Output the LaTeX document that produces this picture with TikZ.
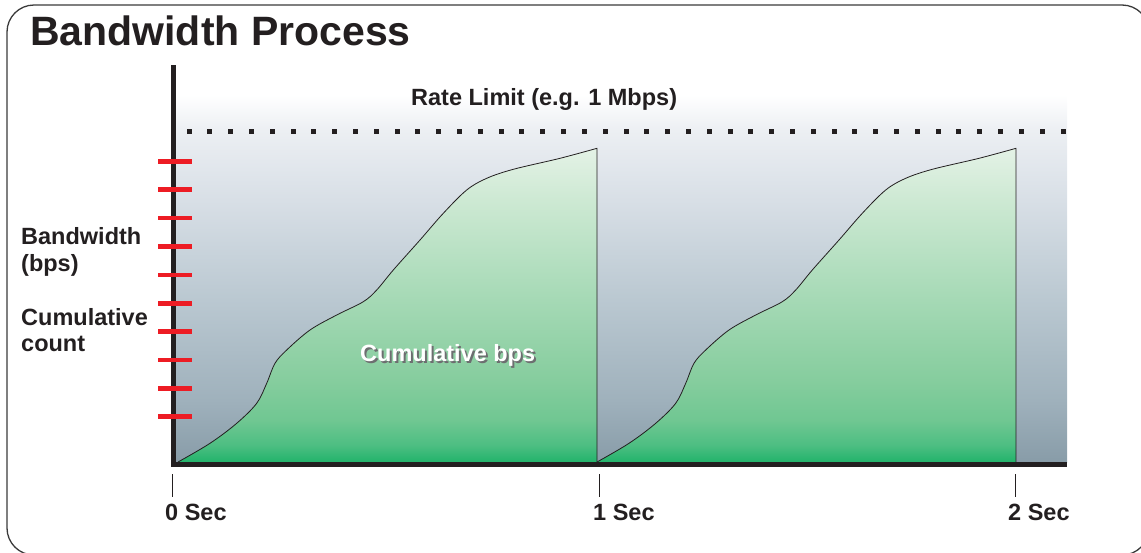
\documentclass[tikz,border=0pt]{standalone}
\usepackage{fontspec}
\setmainfont{Liberation Sans}
\definecolor{ink}{HTML}{231F20}
\definecolor{framec}{HTML}{3A3A3A}
\definecolor{tickred}{HTML}{ED1C24}
\definecolor{shadowc}{HTML}{6D6E70}
\definecolor{bg0}{HTML}{889CA8}
\definecolor{bg1}{HTML}{9FB1BC}
\definecolor{bg2}{HTML}{BAC8D1}
\definecolor{bg3}{HTML}{D8DFE6}
\definecolor{bg4}{HTML}{ECEFF3}
\definecolor{bg5}{HTML}{FFFFFF}
\definecolor{gr0}{HTML}{22B36B}
\definecolor{gr1}{HTML}{4DBE82}
\definecolor{gr2}{HTML}{70C792}
\definecolor{gr3}{HTML}{86CD9E}
\definecolor{gr4}{HTML}{A5D9B5}
\definecolor{gr5}{HTML}{CDE9D3}
\definecolor{gr6}{HTML}{E4F2E6}
\pgfdeclareverticalshading{bgfade}{100bp}{color(0bp)=(bg0); color(25bp)=(bg0); color(33.4bp)=(bg1); color(47.1bp)=(bg2); color(60.7bp)=(bg3); color(70.2bp)=(bg4); color(75bp)=(bg5); color(100bp)=(bg5)}
\pgfdeclareverticalshading{greenfade}{100bp}{color(0bp)=(gr0); color(25bp)=(gr0); color(27.7bp)=(gr1); color(31.7bp)=(gr2); color(38.1bp)=(gr3); color(50.8bp)=(gr4); color(66.7bp)=(gr5); color(75bp)=(gr6); color(100bp)=(gr6)}
\tikzset{
  txt/.style={inner sep=0pt, text=ink, font=\bfseries\fontsize{23.5}{27}\selectfont},
  titletxt/.style={inner sep=0pt, text=ink, font=\bfseries\fontsize{41}{45}\selectfont},
  axisline/.style={draw=ink, line width=5pt},
  redtick/.style={draw=tickred, line width=4.6pt},
  secmark/.style={draw=ink, line width=1pt},
  curveline/.style={draw=ink, line width=0.8pt},
  areafill/.style={shading=greenfade}
}
\begin{document}
\begin{tikzpicture}[x=1pt,y=-1pt]
\useasboundingbox (0,0) rectangle (1141,552);
% outer frame
\draw[framec, line width=1.3pt, rounded corners=27pt] (7,5) rectangle (1149,555);
% chart background
\shade[shading=bgfade] (175,95) rectangle (1067,462);
% cumulative areas
\foreach \s in {0,419}{
  \begin{scope}[xshift=\s]
    \path[areafill] plot[smooth, tension=0.55] coordinates {(178,462) (210,443.3) (236.7,423.3) (256.7,403.3) (266.7,383.3) (275,363.3) (286.7,350) (310,330) (336.7,315) (363.3,301.7) (376.7,290) (393.3,270) (420,240) (443.3,213.3) (466.7,190) (486.7,178.3) (513.3,169.3) (560,158.3) (597,148.3)} -- (597,462) -- cycle;
    \draw[curveline] plot[smooth, tension=0.55] coordinates {(178,462) (210,443.3) (236.7,423.3) (256.7,403.3) (266.7,383.3) (275,363.3) (286.7,350) (310,330) (336.7,315) (363.3,301.7) (376.7,290) (393.3,270) (420,240) (443.3,213.3) (466.7,190) (486.7,178.3) (513.3,169.3) (560,158.3) (597,148.3)} -- (597,462);
  \end{scope}
}
% rate limit dotted line
\foreach \k in {0,...,42}{
  \fill[ink] ({186.5+\k*20.81},129) rectangle ++(5,5);
}
\node[txt, anchor=base west] (rate) at (411,105) {Rate Limit (e.g. 1 Mbps)};
% axes
\draw[axisline] (173.5,65) -- (173.5,467);
\draw[axisline] (171,464.5) -- (1066.5,464.5);
% red ticks
\foreach \k in {0,...,9}{
  \draw[redtick] (158,{161.3+\k*28.38}) -- (192,{161.3+\k*28.38});
}
% second marks
\draw[secmark] (172.7,474) -- (172.7,497);
\draw[secmark] (599.3,474) -- (599.3,497);
\draw[secmark] (1015,474) -- (1015,497);
% labels
\node[titletxt, anchor=base west] (title) at (30,45) {Bandwidth Process};
\node[txt, anchor=base west] (bw1) at (21,244) {Bandwidth};
\node[txt, anchor=base west] (bw2) at (21,271.7) {(bps)};
\node[txt, anchor=base west] (cc1) at (21,325) {Cumulative};
\node[txt, anchor=base west] (cc2) at (21,351.7) {count};
\node[txt, anchor=base west] (s0) at (165,520) {0 Sec};
\node[txt, anchor=base west] (s1) at (593,520) {1 Sec};
\node[txt, anchor=base west] (s2) at (1008,520) {2 Sec};
\node[txt, anchor=base west, text=shadowc] (cbpsshadow) at (362,363.7) {Cumulative bps};
\node[txt, anchor=base west, text=white] (cbps) at (360,361.7) {Cumulative bps};
\end{tikzpicture}
\end{document}
